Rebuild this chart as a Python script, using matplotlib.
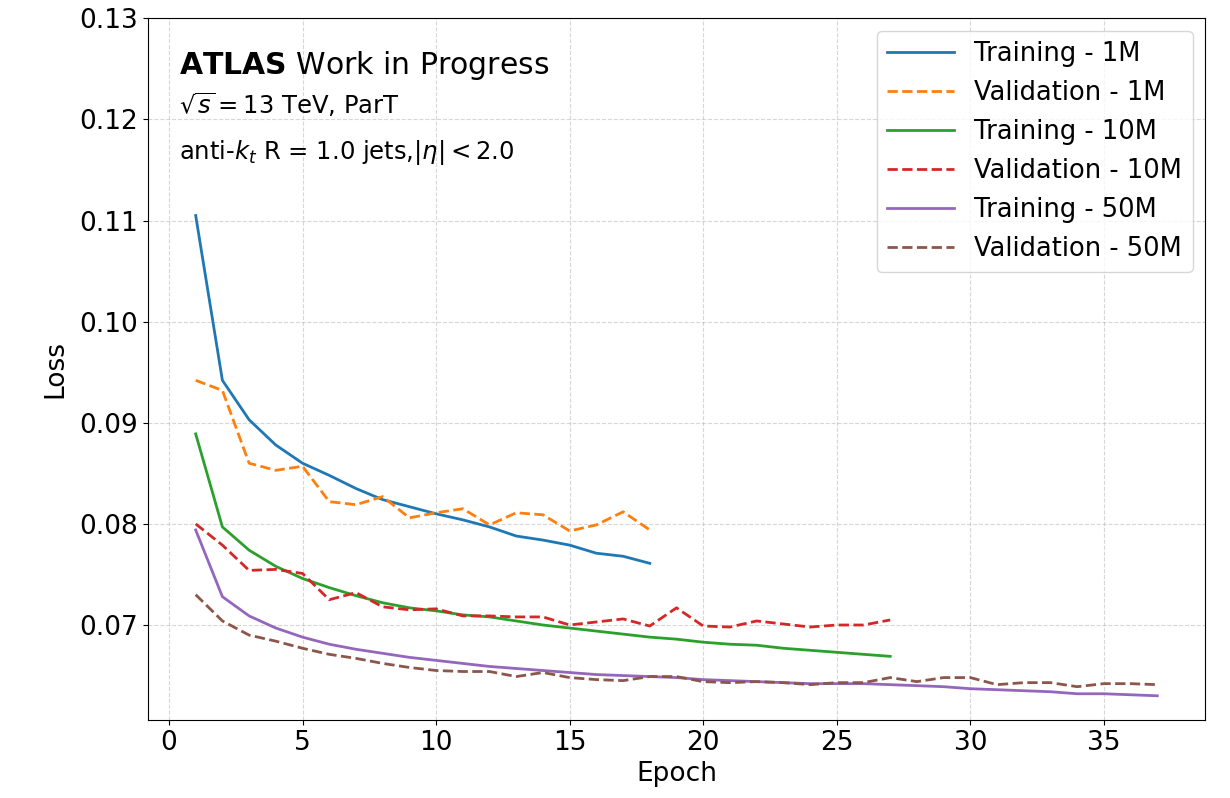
import numpy as np
import matplotlib.pyplot as plt

# Loss curves
train_1m = [0.1105, 0.0942, 0.0903, 0.0878, 0.0860, 0.0848, 0.0835, 0.0824, 0.0817,
            0.0810, 0.0804, 0.0797, 0.0788, 0.0784, 0.0779, 0.0771, 0.0768, 0.0761]
val_1m = [0.0942, 0.0932, 0.0860, 0.0853, 0.0857, 0.0822, 0.0819, 0.0827, 0.0806,
          0.0811, 0.0815, 0.0799, 0.0811, 0.0809, 0.0793, 0.0799, 0.0812, 0.0794]
train_10m = [0.0889, 0.0797, 0.0774, 0.0758, 0.0746, 0.0737, 0.0729, 0.0722, 0.0717,
             0.0714, 0.0710, 0.0708, 0.0704, 0.0700, 0.0697, 0.0694, 0.0691, 0.0688,
             0.0686, 0.0683, 0.0681, 0.0680, 0.0677, 0.0675, 0.0673, 0.0671, 0.0669]
val_10m = [0.0800, 0.0779, 0.0754, 0.0755, 0.0751, 0.0725, 0.0732, 0.0718, 0.0715,
           0.0716, 0.0709, 0.0709, 0.0708, 0.0708, 0.0700, 0.0703, 0.0706, 0.0699,
           0.0717, 0.0699, 0.0698, 0.0704, 0.0701, 0.0698, 0.0700, 0.0700, 0.0705]
train_50m = [0.0794, 0.0728, 0.0709, 0.0697, 0.0688, 0.0681, 0.0676, 0.0672, 0.0668,
             0.0665, 0.0662, 0.0659, 0.0657, 0.0655, 0.0653, 0.0651, 0.0650, 0.0649,
             0.0648, 0.0646, 0.0645, 0.0644, 0.0643, 0.0642, 0.0642, 0.0642, 0.0641,
             0.0640, 0.0639, 0.0637, 0.0636, 0.0635, 0.0634, 0.0632, 0.0632, 0.0631,
             0.0630]
val_50m = [0.0730, 0.0704, 0.0690, 0.0684, 0.0677, 0.0671, 0.0667, 0.0662, 0.0658,
           0.0655, 0.0654, 0.0654, 0.0649, 0.0653, 0.0648, 0.0646, 0.0645, 0.0649,
           0.0649, 0.0644, 0.0643, 0.0644, 0.0643, 0.0641, 0.0643, 0.0643, 0.0648,
           0.0644, 0.0648, 0.0648, 0.0641, 0.0643, 0.0643, 0.0639, 0.0642, 0.0642,
           0.0641]

series = [
    ("Training - 1M", train_1m, "#1f77b4", "-"),
    ("Validation - 1M", val_1m, "#ff7f0e", "--"),
    ("Training - 10M", train_10m, "#2ca02c", "-"),
    ("Validation - 10M", val_10m, "#d62728", "--"),
    ("Training - 50M", train_50m, "#9467bd", "-"),
    ("Validation - 50M", val_50m, "#8c564b", "--"),
]

plt.rcParams['font.size'] = 19

fig, ax = plt.subplots(figsize=(12.3, 7.98), dpi=100)
fig.subplots_adjust(left=0.120, right=0.980, top=0.977, bottom=0.098)

for label, vals, color, ls in series:
    epochs = np.arange(1, len(vals) + 1)
    ax.plot(epochs, vals, color=color, linestyle=ls, linewidth=2, label=label)

ax.set_ylim(top=0.13)
ax.set_xlabel('Epoch', fontsize=19, labelpad=4)
ax.set_ylabel('Loss', fontsize=19, labelpad=8)
ax.tick_params(labelsize=19)
ax.grid(True, linestyle='--', alpha=0.5)

# ATLAS label block
ax.text(0.03, 0.933, r'$\bf{ATLAS}$ Work in Progress', transform=ax.transAxes,
        fontsize=21.5, va='center')
ax.text(0.03, 0.877, r'$\sqrt{s} = 13$ TeV, ParT', transform=ax.transAxes,
        fontsize=17.5, va='center')
ax.text(0.03, 0.809, r'anti-$k_t$ R = 1.0 jets,$|\eta| < 2.0$', transform=ax.transAxes,
        fontsize=17.5, va='center')

ax.legend(loc='upper right', fontsize=18.5, handlelength=2.6, labelspacing=0.5)

plt.savefig('out.png', dpi=100)
